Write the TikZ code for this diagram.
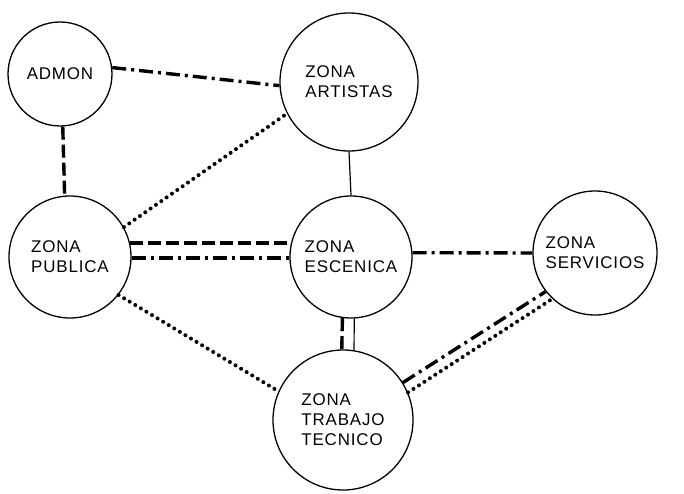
\documentclass[tikz,border=0pt]{standalone}
\usepackage{fontspec}
\setmainfont{Liberation Sans}[LetterSpace=5]
\usetikzlibrary{calc}
\begin{document}
\begin{tikzpicture}[x=1bp,y=-1bp,
  zona/.style={draw,circle,line width=1.3bp,inner sep=0pt,align=left,
    font=\fontsize{17}{20}\selectfont},
  trazo/.style={line width=3.4bp},
  rayapunto/.style={trazo,dash pattern=on 14bp off 5bp on 3bp off 5bp},
  raya/.style={trazo,dash pattern=on 13bp off 5bp},
  puntos/.style={line width=4bp,line cap=round,dash pattern=on 0bp off 6.5bp},
  fino/.style={line width=1.2bp}]
  \useasboundingbox (0,0) rectangle (684,494);
  \node[zona,minimum size=104bp] (admon) at (60,74) {ADMON};
  \node[zona,minimum size=138bp] (artistas) at (349,82) {ZONA\\ARTISTAS};
  \node[zona,minimum size=122bp] (publica) at (70,257) {ZONA\\PUBLICA};
  \node[zona,minimum size=122bp] (escenica) at (351,257) {ZONA\\ESCENICA};
  \node[zona,minimum size=124bp] (servicios) at (595,253) {ZONA\\SERVICIOS};
  \node[zona,minimum size=140bp] (tecnico) at (343,420)
    {ZONA\\TRABAJO\\TECNICO};
  \draw[rayapunto] (admon.7)--(artistas.183);
  \draw[raya] (admon.273)--(publica.95);
  \draw[puntos] (publica.29)--(artistas.207);
  \draw[fino] (artistas.south)--(escenica.north);
  \draw[raya] (publica.13)--(escenica.167);
  \draw[rayapunto] (publica.-1)--(escenica.181);
  \draw[rayapunto] (escenica.4)--(servicios.180);
  \draw[raya] (escenica.262)--(tecnico.91);
  \draw[fino] (escenica.273)--(tecnico.81);
  \draw[puntos] (publica.322)--(tecnico.156);
  \draw[rayapunto] (tecnico.32)--(servicios.218);
  \draw[puntos] (tecnico.23)--(servicios.227);
\end{tikzpicture}
\end{document}
